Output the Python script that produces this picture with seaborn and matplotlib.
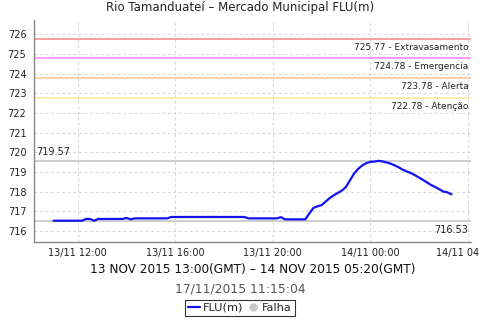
import matplotlib
matplotlib.use("Agg")
import matplotlib.pyplot as plt
import matplotlib.transforms as mtransforms
from matplotlib.lines import Line2D
import seaborn as sns
import pandas as pd
import numpy as np

# ---- data ----
start_time = "2015-11-13 11:00"
step = "10min"
flu_values = [
    716.53, 716.53, 716.53, 716.53, 716.53, 716.53, 716.53, 716.53,
    716.62, 716.62, 716.53,
    716.62, 716.62, 716.62, 716.62, 716.62, 716.62, 716.62,
    716.67, 716.60,
    716.65, 716.65, 716.65, 716.65, 716.65, 716.65, 716.65, 716.65, 716.65,
    716.72, 716.72, 716.72, 716.72, 716.72, 716.72, 716.72, 716.72, 716.72, 716.72,
    716.72, 716.72, 716.72, 716.72, 716.72, 716.72, 716.72, 716.72, 716.72,
    716.65, 716.65, 716.65, 716.65, 716.65, 716.65, 716.65, 716.65,
    716.71,
    716.60, 716.60, 716.60, 716.60, 716.60, 716.60,
    716.90, 717.18, 717.26, 717.32, 717.50, 717.68, 717.82, 717.94, 718.06,
    718.24, 718.58, 718.92, 719.16, 719.33, 719.45, 719.52, 719.53, 719.57,
    719.54, 719.49, 719.43, 719.34, 719.24, 719.12, 719.03, 718.95, 718.84,
    718.72, 718.60, 718.47, 718.34, 718.24, 718.13, 718.01, 717.97, 717.87,
]
threshold_values = [725.77, 724.78, 723.78, 722.78]
threshold_names = ["Extravasamento", "Emergencia", "Alerta", "Atenção"]
threshold_colors = ["#FF8C8C", "#FF8CFF", "#FFC898", "#FFE8A0"]
max_value = 719.57
min_value = 716.53
y_ticks = [716, 717, 718, 719, 720, 721, 722, 723, 724, 725, 726]
x_tick_times = ["2015-11-13 12:00", "2015-11-13 16:00", "2015-11-13 20:00",
                "2015-11-14 00:00", "2015-11-14 04:00"]
x_tick_labels = ["13/11 12:00", "13/11 16:00", "13/11 20:00", "14/11 00:00", "14/11 04"]
title = "Rio Tamanduateí – Mercado Municipal FLU(m)"
subtitle = "13 NOV 2015 13:00(GMT) – 14 NOV 2015 05:20(GMT)"
timestamp = "17/11/2015 11:15:04"

times = pd.date_range(start_time, periods=len(flu_values), freq=step)
df = pd.DataFrame({"time": times, "FLU(m)": flu_values})

sns.set_style("white")
plt.rcParams['font.family'] = ['DejaVu Sans']

fig = plt.figure(figsize=(4.8, 3.2), dpi=100)
ax_left, ax_right, ax_bottom, ax_top = 34 / 480, 471 / 480, 78 / 320, 300 / 320
ax = fig.add_axes([ax_left, ax_bottom, ax_right - ax_left, ax_top - ax_bottom])

grid_kw = dict(color="#D8D8D8", linewidth=0.8, linestyle=(0, (2.5, 2.5)))
ax.set_axisbelow(True)

# thresholds
for v, name, c in zip(threshold_values, threshold_names, threshold_colors):
    ax.axhline(v, color=c, linewidth=1.2, zorder=2)
    ax.text(0.994, v - 0.2, f"{v:.2f} - {name}", transform=ax.get_yaxis_transform(),
            ha="right", va="top", fontsize=6.5, color="#222222", zorder=3)

ax.axhline(max_value, color="#C0C0C0", linewidth=1.1, zorder=2)
ax.text(0.006, max_value + 0.2, f"{max_value:.2f}", transform=ax.get_yaxis_transform(),
        ha="left", va="bottom", fontsize=7, color="#222222")
ax.axhline(min_value, color="#C0C0C0", linewidth=1.1, zorder=2)
ax.text(0.994, min_value - 0.2, f"{min_value:.2f}", transform=ax.get_yaxis_transform(),
        ha="right", va="top", fontsize=7, color="#222222")

sns.lineplot(data=df, x="time", y="FLU(m)", ax=ax, color="#1212F2", linewidth=1.6, zorder=4)

ax.set_xlim(pd.Timestamp("2015-11-13 10:12"), pd.Timestamp("2015-11-14 04:08"))
ax.set_ylim(715.45, 726.72)
ax.set_yticks(y_ticks)
ax.set_yticklabels([str(t) for t in y_ticks])
ax.set_xticks(pd.to_datetime(x_tick_times))
ax.set_xticklabels(x_tick_labels)
ax.grid(True, **grid_kw)
ax.set_xlabel("")
ax.set_ylabel("")

for s in ["top", "right"]:
    ax.spines[s].set_visible(False)
for s in ["left", "bottom"]:
    ax.spines[s].set_color("#888888")
    ax.spines[s].set_linewidth(1.0)
ax.tick_params(axis="both", which="major", length=2.5, width=0.8, color="#888888",
               labelsize=7, labelcolor="#222222", pad=3, direction="out")
ax.tick_params(axis="x", pad=1.5)

# last x tick label sits against the right edge of the image, as in the reference
last = ax.get_xticklabels()[-1]
last.set_horizontalalignment("right")
last.set_transform(last.get_transform() +
                   mtransforms.ScaledTranslation(11 / 100, 0, fig.dpi_scale_trans))

fig.text(0.5, 1 - 8 / 320, title, ha="center", va="center", fontsize=8.5, color="#222222")
fig.text((ax_left + ax_right) / 2, 1 - 269 / 320, subtitle, ha="center", va="center",
         fontsize=8.7, color="#111111")
fig.text(0.5, 1 - 289 / 320, timestamp, ha="center", va="center", fontsize=8.9, color="#555555")

handles = [Line2D([0], [0], color="#1212F2", linewidth=1.6),
           Line2D([0], [0], color="#C8C8C8", marker="o", linestyle="none", markersize=5)]
leg = fig.legend(handles, ["FLU(m)", "Falha"], loc="center", bbox_to_anchor=(0.5, 1 - 308 / 320),
                 ncol=2, fontsize=8.2, frameon=True, fancybox=False, handlelength=1.0,
                 handletextpad=0.3, columnspacing=0.3, borderpad=0.3, borderaxespad=0)
leg.get_frame().set_edgecolor("#000000")
leg.get_frame().set_linewidth(0.8)

fig.savefig("out.png", dpi=100)
